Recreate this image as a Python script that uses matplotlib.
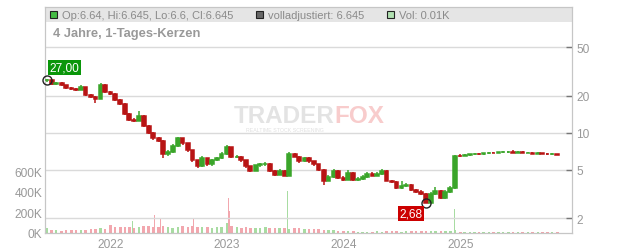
import matplotlib
matplotlib.use("Agg")
import matplotlib.pyplot as plt
from matplotlib.patches import Rectangle
from matplotlib.ticker import NullLocator
import pandas as pd

plt.rcParams["font.family"] = ["Liberation Sans", "DejaVu Sans"]

# semi-monthly candles (start 15 Jun 2021)
dates = pd.date_range("2021-06-15", periods=106, freq="SMS")
first_open = 27.00
closes = [
    27.0, 25.1, 25.5, 24.6, 23.3, 22.8, 22.4, 23.7, 20.4, 19.7, 19.0, 24.6, 21.6,
    20.8, 18.7, 17.3, 14.3, 12.8, 12.6, 13.8, 11.4, 10.0, 8.99, 8.65, 6.65,
    7.03, 7.87, 8.99, 8.18, 7.17, 5.94, 5.31, 6.17, 5.51, 5.94, 6.17, 6.77,
    7.59, 6.40, 6.40, 5.94, 5.31, 4.91, 5.41, 5.51, 5.61, 4.91, 4.55, 4.91,
    4.47, 6.77, 6.40, 5.83, 6.17, 5.83, 5.51, 5.00, 4.07, 4.38, 4.91, 4.30,
    4.14, 4.73, 4.14, 4.22, 4.38, 4.64, 4.47, 4.64, 4.91, 4.07, 3.99, 3.56,
    3.70, 3.77, 3.43, 3.31, 3.18, 2.68, 3.18, 3.37, 2.95, 3.31, 3.55, 6.52,
    6.50, 6.58, 6.65, 6.77, 6.72, 6.83, 6.90, 6.86, 6.92, 6.95, 7.03, 6.90,
    6.94, 6.88, 6.90, 6.77, 6.80, 6.74, 6.65, 6.68, 6.645,
]
highs = [
    27.3, 27.0, 26.2, 25.8, 24.8, 23.6, 23.2, 24.8, 23.9, 20.8, 19.9, 25.4, 24.9,
    22.0, 21.0, 19.0, 17.5, 14.5, 13.2, 15.0, 14.0, 11.6, 10.2, 9.3, 8.8,
    7.3, 8.1, 9.2, 9.1, 8.3, 7.3, 6.0, 6.5, 6.25, 6.1, 6.35, 7.0,
    8.0, 7.7, 6.6, 6.5, 6.0, 5.4, 5.5, 5.65, 5.8, 5.7, 5.0, 5.05,
    5.0, 7.0, 6.9, 6.5, 6.4, 6.3, 5.9, 5.6, 5.1, 4.55, 5.1, 5.0,
    4.4, 5.0, 4.8, 4.35, 4.5, 4.8, 4.75, 4.8, 5.1, 4.95, 4.15, 4.05,
    4.0, 3.9, 3.85, 3.5, 3.4, 3.25, 3.3, 3.6, 3.4, 3.4, 3.7, 6.6,
    6.65, 6.65, 6.75, 6.8, 6.9, 6.85, 6.95, 7.0, 7.0, 7.05, 7.1, 7.3,
    7.05, 7.05, 7.0, 7.0, 6.95, 6.9, 6.85, 6.8, 6.75,
]
lows = [
    26.0, 24.8, 24.8, 24.2, 23.0, 22.3, 22.0, 22.2, 20.0, 19.3, 17.6, 18.8, 21.2,
    20.3, 18.3, 16.9, 14.0, 12.5, 12.2, 12.4, 11.1, 9.7, 8.7, 8.4, 6.2,
    6.5, 6.9, 7.7, 8.0, 7.0, 5.8, 5.15, 5.25, 5.35, 5.4, 5.85, 6.1,
    6.6, 6.25, 6.2, 5.8, 5.2, 4.75, 4.85, 5.3, 5.4, 4.8, 4.4, 4.5,
    4.4, 4.45, 6.3, 5.7, 5.75, 5.7, 5.35, 4.9, 3.75, 4.0, 4.3, 4.2,
    4.05, 4.1, 4.05, 4.05, 4.15, 4.3, 4.4, 4.4, 4.55, 4.0, 3.9, 3.5,
    3.5, 3.6, 3.35, 3.25, 3.1, 2.68, 2.68, 3.1, 2.85, 2.9, 3.25, 3.5,
    6.40, 6.42, 6.48, 6.55, 6.62, 6.62, 6.68, 6.78, 6.78, 6.80, 6.85, 6.85,
    6.80, 6.82, 6.78, 6.78, 6.65, 6.68, 6.62, 6.58, 6.58,
]
volumes_k = [
    40, 25, 20, 18, 20, 22, 25, 20, 28, 35, 30, 40, 30,
    70, 55, 50, 55, 50, 45, 55, 65, 60, 55, 50, 65, 50, 45, 50, 60, 50, 60, 55, 55, 50, 45, 50, 55,
    90, 60, 50, 45, 50, 45, 40, 45, 50, 40, 45, 40, 45, 35, 40, 40, 35, 30, 35, 30, 25, 25, 20, 15,
    12, 10, 10, 8, 8, 8, 8, 10, 8, 10, 10, 10, 8, 10, 10, 12, 12, 12, 10, 12, 10, 10, 12, 20,
    8, 5, 5, 5, 4, 4, 4, 4, 4, 3, 3, 3, 3, 3, 3, 3, 3, 3, 3, 3, 3,
]
spike_dates = ["2021-06-11", "2021-11-20", "2022-03-10", "2022-05-20", "2022-06-08",
               "2022-09-18", "2023-01-06", "2023-01-10", "2023-07-10", "2024-12-13"]
spike_vols_k = [180, 90, 110, 170, 130, 130, 335, 215, 405, 235]
spike_up = [False, True, True, False, False, False, False, False, True, True]

year_ticks = pd.to_datetime(["2022-01-01", "2023-01-01", "2024-01-01", "2025-01-01"])
year_labels = ["2022", "2023", "2024", "2025"]
price_ticks = [2, 5, 10, 20, 50]
vol_ticks_k = [0, 200, 400, 600]

GREEN = "#3aa52a"
RED = "#b81414"
VGREEN = "#a8dca2"
VRED = "#f2a7ae"

fig = plt.figure(figsize=(6.32, 2.53), dpi=100)
ax = fig.add_axes([45 / 632, 19.5 / 253, 527 / 632, 225.5 / 253])
ax2 = ax.twinx()

opens = [first_open] + closes[:-1]
up = [c >= o for o, c in zip(opens, closes)]
bottoms = [min(o, c) for o, c in zip(opens, closes)]
heights = [abs(c - o) for o, c in zip(opens, closes)]
ccol = [GREEN if u else RED for u in up]

# volume (left axis)
ax.bar(dates, [v * 1000 for v in volumes_k], width=8,
       color=[VGREEN if u else VRED for u in up], zorder=2)
ax.bar(pd.to_datetime(spike_dates), [v * 1000 for v in spike_vols_k], width=2.5,
       color=[VGREEN if u else VRED for u in spike_up], zorder=2)
ax.set_ylim(0, 2.211e6)
ax.set_xlim(pd.Timestamp("2021-06-10"), pd.Timestamp("2025-12-17"))
ax.set_yticks([v * 1000 for v in vol_ticks_k])
ax.set_yticklabels([f"{v}K" for v in vol_ticks_k])
ax.tick_params(axis="y", length=0, pad=2, labelcolor="#999999", labelsize=8.6)
ax.set_xticks(year_ticks)
ax.set_xticklabels(year_labels)
ax.tick_params(axis="x", length=0, pad=4, labelcolor="#999999", labelsize=8.6)

# header band
ax.add_patch(Rectangle((0, 0.9348), 1, 0.0652, transform=ax.transAxes,
                       facecolor="#e5e5e5", edgecolor="none", zorder=0))

# price candles (right axis, log)
ax2.set_yscale("log")
ax2.set_ylim(1.531, 106.8)
ax2.vlines(dates, lows, highs, colors=ccol, linewidth=1.1, zorder=3)
ax2.bar(dates, heights, bottom=bottoms, width=12, color=ccol, edgecolor=ccol,
        linewidth=1.1, zorder=3)
ax2.set_yticks(price_ticks)
ax2.set_yticklabels([str(p) for p in price_ticks])
ax2.yaxis.set_minor_locator(NullLocator())
ax2.tick_params(axis="y", direction="in", length=4, width=1, color="#777777",
                labelcolor="#999999", labelsize=8.6, pad=3)
ax2.set_axisbelow(True)
ax2.grid(True, color="#dadada", linewidth=1)

for a in (ax, ax2):
    for s in a.spines.values():
        s.set_color("#c6c6c6")
ax.spines["bottom"].set_color("#a8a8a8")

# markers for high / low
ax2.plot([dates[0]], [first_open], marker="o", ms=6.5, mfc="none", mec="#222222",
         mew=1, clip_on=False, zorder=5)
ax2.plot([dates[78]], [closes[78]], marker="o", ms=6.5, mfc="none", mec="#222222",
         mew=1, zorder=5)
ax2.annotate("27,00", xy=(dates[0], first_open), xytext=(13, 9), textcoords="offset points",
             ha="center", va="center", color="white", fontsize=8.6,
             bbox=dict(boxstyle="square,pad=0.12", fc="#0a960a", ec="none"), zorder=6)
ax2.annotate("2,68", xy=(dates[78], closes[78]), xytext=(-11, -8), textcoords="offset points",
             ha="center", va="center", color="white", fontsize=8.6,
             bbox=dict(boxstyle="square,pad=0.12", fc="#cc0000", ec="none"), zorder=6)

# watermark
ax.text(0.550, 0.52, "TRADER", transform=ax.transAxes, ha="right", va="center",
        fontsize=17.5, fontweight="bold", color="#e3e3e3", zorder=1)
ax.text(0.550, 0.52, "FOX", transform=ax.transAxes, ha="left", va="center",
        fontsize=17.5, fontweight="bold", color="#f8cccc", zorder=1)
ax.text(0.455, 0.455, "REALTIME STOCK SCREENING", transform=ax.transAxes, ha="center",
        va="center", fontsize=3.8, color="#e0e0e0", zorder=1)

# header legend
def px(x, y):
    return x / 632, 1 - y / 253

header = [
    (50, "#44bb44", "Op:6.64, Hi:6.645, Lo:6.6, Cl:6.645"),
    (256, "#666666", "volladjustiert: 6.645"),
    (387, "#b0e0b0", "Vol: 0.01K"),
]
for x0, fc, txt in header:
    fig.add_artist(Rectangle(px(x0, 19.2), 7 / 632, 7 / 253, transform=fig.transFigure,
                             facecolor=fc, edgecolor="#222222", linewidth=0.8))
    fig.text(*px(x0 + 12, 15.8), txt, fontsize=8, color="#8a8a8a", va="center")

fig.text(*px(53, 34), "4 Jahre, 1-Tages-Kerzen", fontsize=9.3, fontweight="bold",
         color="#999999", va="center")

fig.savefig("out.png", dpi=100)
